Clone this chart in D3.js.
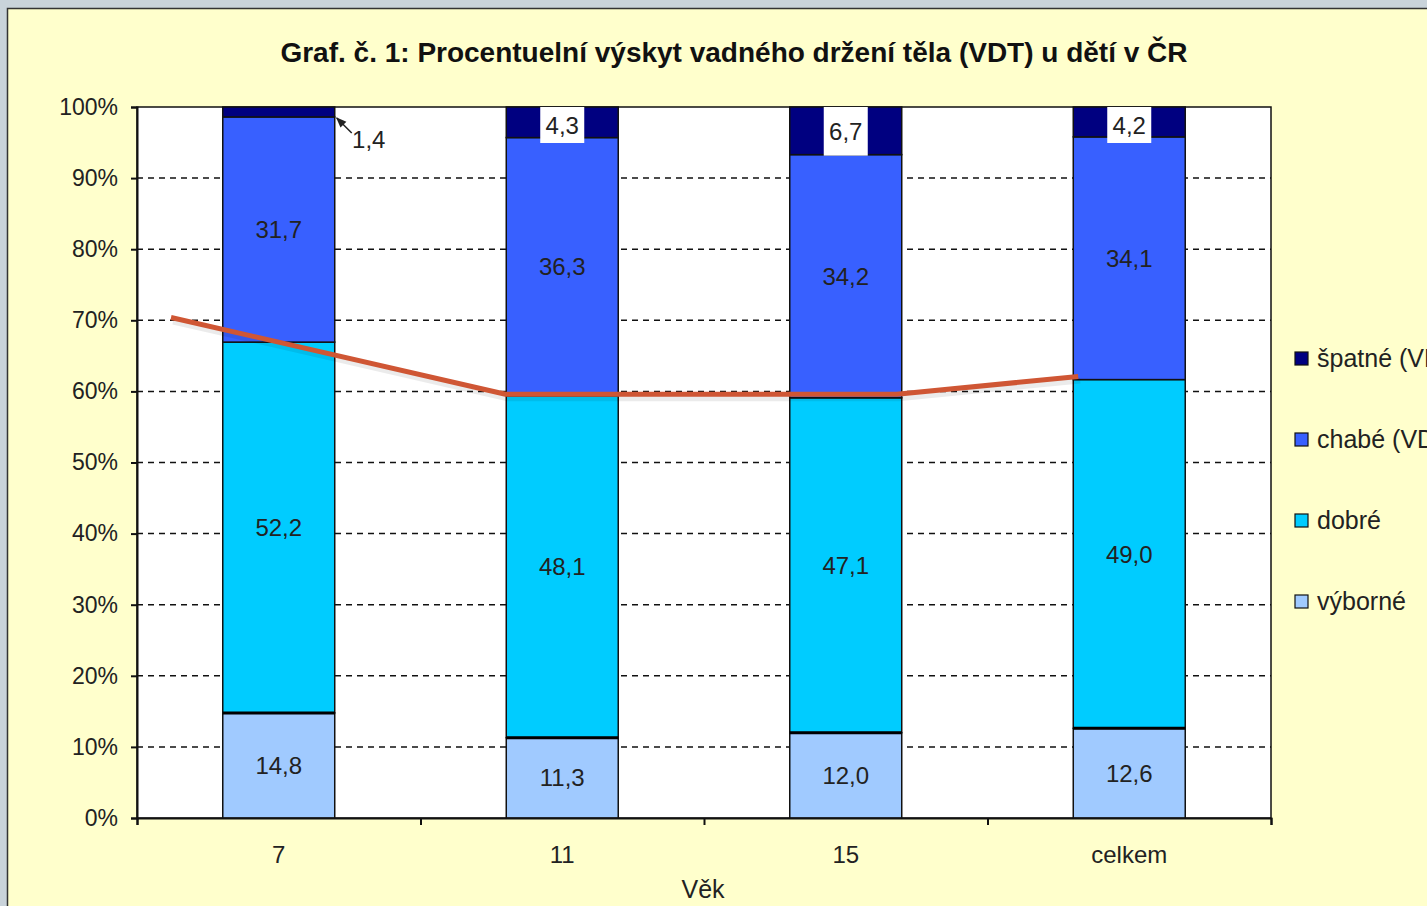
<!DOCTYPE html>
<html lang="cs">
<head>
<meta charset="utf-8">
<title>Graf VDT</title>
<script src="https://cdnjs.cloudflare.com/ajax/libs/d3/7.8.5/d3.min.js"></script>
<style>
  body { margin: 0; background: #c9d3da; overflow: hidden; }
  svg { display: block; font-family: "Liberation Sans", Arial, sans-serif; }
</style>
</head>
<body>
<div class="chart"></div>
<script>
// data
var categories = ["7", "11", "15", "celkem"];
var series = ["výborné", "dobré", "chabé (VDT)", "špatné (VDT)"];
var vyborne = [14.8, 11.3, 12.0, 12.6];
var dobre   = [52.2, 48.1, 47.1, 49.0];
var chabe   = [31.7, 36.3, 34.2, 34.1];
var spatne  = [1.4, 4.3, 6.7, 4.2];
var yTicks = [0, 10, 20, 30, 40, 50, 60, 70, 80, 90, 100];
// hand drawn red line: position in category units, value in %
var redLinePos = [0.12, 1.3, 2.68, 3.32];
var redLineVal = [70.4, 59.6, 59.6, 62.1];

var svgWidth = 1427, svgHeight = 906;
var margin = { top: 107, left: 137, right: 156, bottom: 88 };
var width = svgWidth - margin.left - margin.right;
var height = svgHeight - margin.top - margin.bottom;

var colors = ["#a0caff", "#00ccff", "#3860ff", "#000080"];

var svg = d3.select(".chart").append("svg")
  .attr("width", svgWidth)
  .attr("height", svgHeight);

// yellow panel
svg.append("rect")
  .attr("x", 7.5).attr("y", 8.5)
  .attr("width", svgWidth + 10).attr("height", svgHeight + 10)
  .attr("fill", "#ffffcc")
  .attr("stroke", "#333").attr("stroke-width", 1.5);

svg.append("text")
  .attr("x", 734).attr("y", 62)
  .attr("text-anchor", "middle")
  .attr("font-size", 28).attr("font-weight", "bold")
  .attr("fill", "#111")
  .text("Graf. č. 1: Procentuelní výskyt vadného držení těla (VDT) u dětí v ČR");

var g = svg.append("g").attr("transform", `translate(${margin.left},${margin.top})`);

var x = d3.scaleBand().domain(categories).range([0, width]).paddingInner(0.605).paddingOuter(0.3025);
var xPos = d3.scaleLinear().domain([0, categories.length]).range([0, width]);
var y = d3.scaleLinear().domain([0, 100]).range([height, 0]);

// plot background
g.append("rect").attr("width", width).attr("height", height)
  .attr("fill", "#fff").attr("stroke", "#111").attr("stroke-width", 1.5);

// grid
g.selectAll(".grid").data(yTicks.filter(d => d > 0 && d < 100)).enter()
  .append("line")
  .attr("x1", 0).attr("x2", width)
  .attr("y1", d => y(d)).attr("y2", d => y(d))
  .attr("stroke", "#111").attr("stroke-width", 1.5)
  .attr("stroke-dasharray", "6,5");

// stacked data normalised to 100 %
var rows = categories.map(function (c, i) {
  var vals = [vyborne[i], dobre[i], chabe[i], spatne[i]];
  var sum = d3.sum(vals);
  var r = { cat: c, raw: vals };
  series.forEach(function (s, j) { r[s] = vals[j] / sum * 100; });
  return r;
});
var stack = d3.stack().keys(series)(rows);

var layers = g.selectAll(".layer").data(stack).enter().append("g")
  .attr("fill", (d, i) => colors[i]);

layers.selectAll("rect").data(d => d).enter().append("rect")
  .attr("x", d => x(d.data.cat))
  .attr("width", x.bandwidth())
  .attr("y", d => y(d[1]))
  .attr("height", d => y(d[0]) - y(d[1]))
  .attr("stroke", "#111").attr("stroke-width", 1.5);

// boundary between výborné and dobré is drawn heavier
g.selectAll(".sep").data(stack[0]).enter().append("line")
  .attr("x1", d => x(d.data.cat)).attr("x2", d => x(d.data.cat) + x.bandwidth())
  .attr("y1", d => y(d[1])).attr("y2", d => y(d[1]))
  .attr("stroke", "#000").attr("stroke-width", 3);

// value labels
stack.forEach(function (layer, j) {
  layer.forEach(function (d, i) {
    var cx = x(d.data.cat) + x.bandwidth() / 2;
    var cy = (y(d[0]) + y(d[1])) / 2;
    var txt = d3.format(".1f")(d.data.raw[j]).replace(".", ",");
    if (j === 3 && i === 0) {
      // small segment label with leader
      var bx = x(d.data.cat) + x.bandwidth();
      g.append("line")
        .attr("x1", bx + 17).attr("y1", y(d[0]) + 16)
        .attr("x2", bx + 2).attr("y2", y(d[0]) + 1)
        .attr("stroke", "#222").attr("stroke-width", 1.5)
        .attr("marker-end", "url(#arr)");
      g.append("text").attr("x", bx + 34).attr("y", y(d[0]) + 31)
        .attr("text-anchor", "middle").attr("font-size", 24).attr("fill", "#222")
        .text(txt);
      return;
    }
    if (j === 3) {
      var hh = Math.max(36, y(d[0]) - y(d[1]) + 1);
      g.append("rect")
        .attr("x", cx - 22).attr("y", y(d[1]))
        .attr("width", 44).attr("height", hh)
        .attr("fill", "#fff");
      cy = y(d[1]) + hh / 2;
    }
    g.append("text").attr("x", cx).attr("y", cy).attr("dy", "0.36em")
      .attr("text-anchor", "middle").attr("font-size", 24).attr("fill", "#222")
      .text(txt);
  });
});

svg.append("defs").append("marker")
  .attr("id", "arr").attr("viewBox", "0 0 10 10").attr("refX", 9).attr("refY", 5)
  .attr("markerWidth", 7).attr("markerHeight", 7).attr("orient", "auto")
  .append("path").attr("d", "M0,1 L10,5 L0,9 Z").attr("fill", "#222");

// red annotation line with soft shadow
var linePts = redLinePos.map((p, i) => [xPos(p), y(redLineVal[i])]);
var lineGen = d3.line();
g.append("path").attr("d", lineGen(linePts.map(p => [p[0] + 2, p[1] + 4])))
  .attr("fill", "none").attr("stroke", "rgba(0,0,0,0.08)").attr("stroke-width", 6)
  .attr("stroke-linejoin", "round");
g.append("path").attr("d", lineGen(linePts))
  .attr("fill", "none").attr("stroke", "#cf5634").attr("stroke-width", 5)
  .attr("stroke-linejoin", "round");

// axes
var yAxis = g.append("g").call(d3.axisLeft(y).tickValues(yTicks).tickSize(6).tickFormat(d => d + "%"));
yAxis.select(".domain").attr("stroke", "#111").attr("stroke-width", 2);
yAxis.selectAll("line").attr("stroke", "#111").attr("stroke-width", 2);
yAxis.selectAll("text").attr("font-size", 23).attr("fill", "#222")
  .attr("font-family", "Liberation Sans, Arial, sans-serif").attr("x", -19);

var xAxis = g.append("g").attr("transform", `translate(0,${height})`)
  .call(d3.axisBottom(xPos).tickValues(d3.range(categories.length + 1)).tickSize(7).tickFormat(""));
xAxis.select(".domain").attr("stroke", "#111").attr("stroke-width", 2);
xAxis.selectAll("line").attr("stroke", "#111").attr("stroke-width", 2);

g.selectAll(".xlab").data(categories).enter().append("text")
  .attr("x", d => x(d) + x.bandwidth() / 2).attr("y", height + 45)
  .attr("text-anchor", "middle").attr("font-size", 24).attr("fill", "#222")
  .text(d => d);

g.append("text").attr("x", 566).attr("y", height + 80)
  .attr("text-anchor", "middle").attr("font-size", 25).attr("fill", "#222")
  .text("Věk");

// legend
var legendOrder = series.slice().reverse();
var legend = svg.selectAll(".leg").data(legendOrder).enter().append("g")
  .attr("transform", (d, i) => `translate(1295,${352 + i * 81})`);
legend.append("rect").attr("width", 13).attr("height", 13)
  .attr("fill", d => colors[series.indexOf(d)]).attr("stroke", "#111").attr("stroke-width", 1.2);
legend.append("text").attr("x", 22).attr("y", 15)
  .attr("font-size", 25).attr("fill", "#222").text(d => d);
</script>
</body>
</html>
